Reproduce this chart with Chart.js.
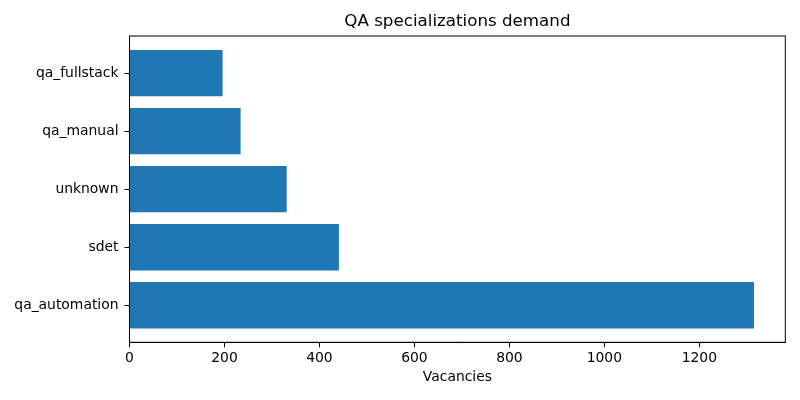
<html>

<head>
    <meta charset="UTF-8">
    <script src="https://cdn.jsdelivr.net/npm/chart.js"></script>
</head>
<style>
  body { margin: 0; background: white; }
</style>

<body>
    <canvas id="myChart" width="800" height="400"></canvas>
</body>
<script>
  // bottom to top, as matplotlib barh draws them
  const categories = ['qa_automation', 'sdet', 'unknown', 'qa_manual', 'qa_fullstack'];
  const vacancies = [1315, 441, 331, 234, 196];
  const xTicks = [0, 200, 400, 600, 800, 1000, 1200];

  const FONT = 'DejaVu Sans';

  // draws the top and right spines too
  const frame = {
    id: 'frame',
    afterDraw(chart) {
      const { ctx, chartArea: a } = chart;
      ctx.save();
      ctx.strokeStyle = '#000';
      ctx.lineWidth = 1;
      ctx.strokeRect(a.left, a.top, a.right - a.left, a.bottom - a.top);
      ctx.restore();
    }
  };

  const data = {
    datasets: [{
      data: categories.map((c, i) => ({ x: vacancies[i], y: i })),
      backgroundColor: '#1f77b4',
      borderWidth: 0,
      barPercentage: 1,
      categoryPercentage: 0.8,
    }]
  };

  const config = {
    type: 'bar',
    data: data,
    options: {
      indexAxis: 'y',
      responsive: false,
      devicePixelRatio: 1,
      animation: false,
      layout: { padding: { left: 0, right: 14.7, top: 0, bottom: 0 } },
      scales: {
        x: {
          type: 'linear',
          min: 0,
          max: 1381,
          afterBuildTicks(scale) { scale.ticks = xTicks.map(v => ({ value: v })); },
          afterFit(scale) { scale.height = 57.7; },
          border: { color: '#000', width: 1 },
          grid: { drawOnChartArea: false, tickLength: 5, tickColor: '#000' },
          ticks: {
            color: '#000',
            padding: 3,
            font: { family: FONT, size: 13.9 },
            callback: v => String(v)
          },
          title: {
            display: true,
            text: 'Vacancies',
            color: '#000',
            font: { family: FONT, size: 13.9 },
            padding: { top: 0, bottom: 14.5 }
          }
        },
        y: {
          type: 'linear',
          min: -0.64,
          max: 4.64,
          offset: false,
          afterBuildTicks(scale) { scale.ticks = categories.map((c, i) => ({ value: i })); },
          afterFit(scale) { scale.width = 129.5; },
          border: { color: '#000', width: 1 },
          grid: { offset: false, drawOnChartArea: false, tickLength: 5, tickColor: '#000' },
          ticks: {
            color: '#000',
            padding: 6,
            font: { family: FONT, size: 13.9 },
            callback: v => categories[v]
          }
        }
      },
      plugins: {
        legend: { display: false },
        tooltip: { enabled: false },
        title: {
          display: true,
          fullSize: false,
          text: 'QA specializations demand',
          color: '#000',
          font: { family: FONT, size: 16.7, weight: 'normal' },
          padding: { top: 11.5, bottom: 4.5 }
        }
      }
    },
    plugins: [frame]
  };

  new Chart(document.getElementById('myChart'), config);
</script>
</html>
